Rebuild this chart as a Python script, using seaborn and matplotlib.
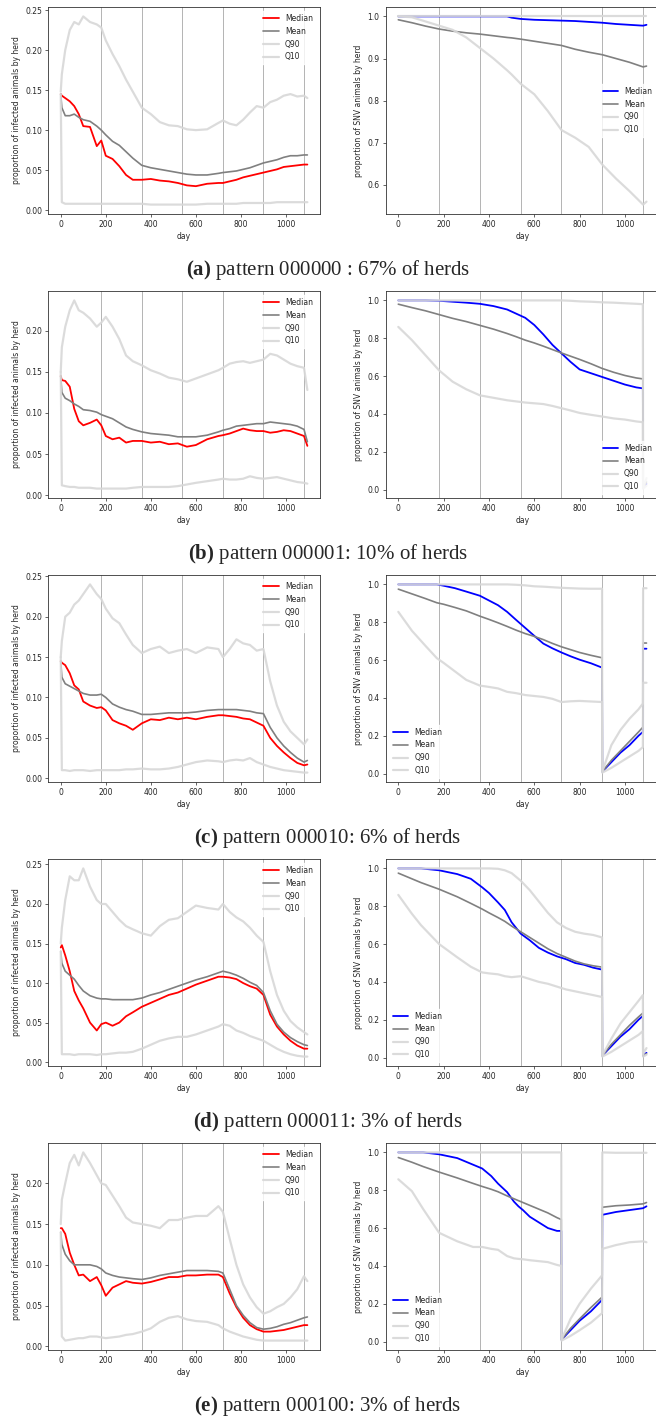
import matplotlib
matplotlib.use("Agg")
import matplotlib.pyplot as plt
import seaborn as sns

# ---------------------------------------------------------------
# Left column: proportion of infected animals by herd
# ---------------------------------------------------------------
left_days = [0, 5, 20, 40, 60, 80, 100, 130, 160, 180, 200, 230, 260, 290, 320,
             360, 400, 440, 480, 520, 560, 600, 650, 700, 720, 750, 780, 810,
             840, 870, 900, 930, 960, 990, 1020, 1050, 1080, 1095]

a_inf_median = [0.145, 0.143, 0.140, 0.136, 0.130, 0.120, 0.105, 0.104, 0.080, 0.087,
                0.068, 0.064, 0.055, 0.044, 0.038,
                0.038, 0.039, 0.037, 0.036, 0.034, 0.031, 0.030,
                0.033, 0.034, 0.034, 0.036, 0.038, 0.041, 0.043, 0.045, 0.047,
                0.049, 0.051, 0.054, 0.055, 0.056, 0.057, 0.057]
a_inf_mean = [0.145, 0.128, 0.118, 0.118, 0.120, 0.116, 0.113, 0.111, 0.105, 0.100,
              0.094, 0.086, 0.081, 0.073, 0.065,
              0.056, 0.053, 0.051, 0.049, 0.047, 0.045, 0.044,
              0.044, 0.046, 0.047, 0.048, 0.049, 0.051, 0.053, 0.056, 0.059,
              0.061, 0.063, 0.066, 0.068, 0.068, 0.069, 0.069]
a_inf_q90 = [0.148, 0.170, 0.200, 0.225, 0.235, 0.232, 0.242, 0.235, 0.232, 0.228,
             0.212, 0.195, 0.180, 0.163, 0.148,
             0.128, 0.120, 0.110, 0.106, 0.105, 0.101, 0.100,
             0.101, 0.109, 0.112, 0.108, 0.106, 0.113, 0.122, 0.130, 0.128,
             0.135, 0.138, 0.143, 0.145, 0.142, 0.143, 0.140]
a_inf_q10 = [0.145, 0.010, 0.008, 0.008, 0.008, 0.008, 0.008, 0.008, 0.008, 0.008,
             0.008, 0.008, 0.008, 0.008, 0.008,
             0.008, 0.007, 0.007, 0.007, 0.007, 0.007, 0.007,
             0.008, 0.008, 0.008, 0.008, 0.008, 0.009, 0.009, 0.009, 0.009,
             0.009, 0.010, 0.010, 0.010, 0.010, 0.010, 0.010]

b_inf_median = [0.145, 0.140, 0.139, 0.132, 0.105, 0.090, 0.085, 0.088, 0.092, 0.085,
                0.072, 0.068, 0.070, 0.064, 0.066,
                0.066, 0.064, 0.065, 0.062, 0.063, 0.059, 0.061,
                0.068, 0.072, 0.073, 0.075, 0.078, 0.081, 0.079, 0.078, 0.078,
                0.076, 0.077, 0.079, 0.078, 0.075, 0.072, 0.060]
b_inf_mean = [0.145, 0.125, 0.118, 0.115, 0.111, 0.108, 0.104, 0.103, 0.101, 0.098,
              0.096, 0.093, 0.088, 0.083, 0.080,
              0.077, 0.075, 0.074, 0.073, 0.071, 0.071, 0.071,
              0.073, 0.077, 0.079, 0.081, 0.084, 0.085, 0.086, 0.087, 0.087,
              0.089, 0.088, 0.087, 0.086, 0.084, 0.080, 0.065]
b_inf_q90 = [0.150, 0.180, 0.205, 0.225, 0.237, 0.225, 0.222, 0.215, 0.205, 0.210,
             0.217, 0.205, 0.190, 0.170, 0.163,
             0.158, 0.152, 0.148, 0.143, 0.141, 0.138, 0.142,
             0.147, 0.152, 0.155, 0.160, 0.162, 0.163, 0.161, 0.163, 0.165,
             0.172, 0.170, 0.165, 0.160, 0.157, 0.155, 0.128]
b_inf_q10 = [0.150, 0.012, 0.011, 0.010, 0.010, 0.009, 0.009, 0.009, 0.008, 0.008,
             0.008, 0.008, 0.008, 0.008, 0.009,
             0.010, 0.010, 0.010, 0.010, 0.011, 0.013, 0.015,
             0.017, 0.019, 0.020, 0.019, 0.019, 0.020, 0.023, 0.021, 0.020,
             0.021, 0.022, 0.020, 0.018, 0.016, 0.015, 0.014]

c_inf_median = [0.145, 0.143, 0.140, 0.130, 0.115, 0.110, 0.095, 0.090, 0.087, 0.088,
                0.084, 0.072, 0.068, 0.065, 0.060,
                0.068, 0.073, 0.072, 0.075, 0.073, 0.075, 0.073,
                0.076, 0.078, 0.078, 0.077, 0.076, 0.074, 0.073, 0.069, 0.065,
                0.050, 0.040, 0.032, 0.025, 0.019, 0.016, 0.017]
c_inf_mean = [0.145, 0.125, 0.117, 0.114, 0.111, 0.108, 0.105, 0.103, 0.103, 0.104,
              0.100, 0.092, 0.088, 0.085, 0.083,
              0.079, 0.079, 0.080, 0.081, 0.081, 0.081, 0.082,
              0.084, 0.085, 0.085, 0.085, 0.085, 0.084, 0.083, 0.081, 0.080,
              0.063, 0.050, 0.040, 0.032, 0.025, 0.020, 0.022]
c_inf_q90 = [0.150, 0.170, 0.200, 0.205, 0.215, 0.220, 0.228, 0.240, 0.228, 0.222,
             0.210, 0.198, 0.192, 0.178, 0.165,
             0.155, 0.160, 0.163, 0.155, 0.158, 0.160, 0.155,
             0.162, 0.160, 0.150, 0.160, 0.172, 0.167, 0.165, 0.158, 0.160,
             0.120, 0.090, 0.070, 0.058, 0.050, 0.042, 0.048]
c_inf_q10 = [0.150, 0.010, 0.010, 0.009, 0.010, 0.010, 0.010, 0.009, 0.010, 0.010,
             0.010, 0.010, 0.010, 0.011, 0.011,
             0.012, 0.011, 0.011, 0.012, 0.014, 0.017, 0.020,
             0.022, 0.021, 0.020, 0.022, 0.023, 0.022, 0.025, 0.020, 0.017,
             0.014, 0.012, 0.010, 0.009, 0.008, 0.007, 0.007]

d_inf_median = [0.145, 0.148, 0.135, 0.115, 0.090, 0.078, 0.068, 0.050, 0.040, 0.048,
                0.050, 0.046, 0.050, 0.058, 0.063,
                0.070, 0.075, 0.080, 0.085, 0.088, 0.093, 0.098,
                0.103, 0.108, 0.108, 0.107, 0.105, 0.100, 0.096, 0.093, 0.085,
                0.060, 0.045, 0.035, 0.027, 0.021, 0.017, 0.017]
d_inf_mean = [0.140, 0.125, 0.115, 0.110, 0.105, 0.097, 0.090, 0.084, 0.081, 0.080,
              0.080, 0.079, 0.079, 0.079, 0.079,
              0.081, 0.085, 0.088, 0.092, 0.096, 0.100, 0.104,
              0.108, 0.113, 0.115, 0.113, 0.110, 0.106, 0.101, 0.097, 0.088,
              0.065, 0.048, 0.038, 0.031, 0.026, 0.022, 0.021]
d_inf_q90 = [0.150, 0.170, 0.205, 0.235, 0.230, 0.230, 0.245, 0.222, 0.205, 0.200,
             0.200, 0.190, 0.180, 0.172, 0.168,
             0.163, 0.160, 0.172, 0.180, 0.182, 0.190, 0.198,
             0.195, 0.193, 0.200, 0.190, 0.183, 0.178, 0.170, 0.160, 0.152,
             0.115, 0.085, 0.065, 0.052, 0.044, 0.038, 0.035]
d_inf_q10 = [0.140, 0.010, 0.010, 0.010, 0.009, 0.010, 0.010, 0.010, 0.009, 0.010,
             0.010, 0.011, 0.012, 0.012, 0.013,
             0.017, 0.022, 0.027, 0.030, 0.032, 0.032, 0.035,
             0.040, 0.045, 0.048, 0.046, 0.040, 0.037, 0.033, 0.030, 0.027,
             0.022, 0.017, 0.013, 0.010, 0.008, 0.007, 0.007]

e_inf_median = [0.145, 0.145, 0.138, 0.115, 0.100, 0.087, 0.088, 0.080, 0.085, 0.075,
                0.062, 0.072, 0.076, 0.080, 0.078,
                0.077, 0.079, 0.082, 0.085, 0.085, 0.087, 0.087,
                0.088, 0.088, 0.085, 0.065, 0.048, 0.035, 0.026, 0.021, 0.018,
                0.018, 0.019, 0.020, 0.022, 0.024, 0.026, 0.026]
e_inf_mean = [0.140, 0.125, 0.113, 0.105, 0.100, 0.100, 0.100, 0.100, 0.098, 0.095,
              0.090, 0.087, 0.085, 0.084, 0.083,
              0.082, 0.084, 0.087, 0.089, 0.091, 0.093, 0.093,
              0.093, 0.092, 0.090, 0.070, 0.050, 0.038, 0.029, 0.023, 0.021,
              0.022, 0.024, 0.027, 0.029, 0.032, 0.035, 0.036]
e_inf_q90 = [0.150, 0.180, 0.200, 0.225, 0.235, 0.222, 0.238, 0.225, 0.210, 0.200,
             0.198, 0.185, 0.172, 0.158, 0.152,
             0.150, 0.148, 0.145, 0.155, 0.155, 0.158, 0.160,
             0.160, 0.172, 0.165, 0.132, 0.100, 0.076, 0.060, 0.048, 0.040,
             0.043, 0.048, 0.052, 0.060, 0.070, 0.086, 0.080]
e_inf_q10 = [0.140, 0.012, 0.007, 0.008, 0.009, 0.010, 0.010, 0.012, 0.012, 0.011,
             0.010, 0.011, 0.012, 0.014, 0.015,
             0.018, 0.022, 0.030, 0.035, 0.037, 0.033, 0.031,
             0.030, 0.026, 0.022, 0.018, 0.015, 0.012, 0.010, 0.008, 0.007,
             0.007, 0.007, 0.007, 0.007, 0.007, 0.007, 0.007]

# ---------------------------------------------------------------
# Right column: proportion of SNV animals by herd
# ---------------------------------------------------------------
a_snv_days = [0, 60, 120, 180, 240, 300, 360, 420, 480, 500, 540, 600, 660, 720,
              780, 840, 900, 960, 1020, 1080, 1095]
a_snv_median = [1.0, 1.0, 1.0, 1.0, 1.0, 1.0, 1.0, 1.0, 1.0, 0.997, 0.994, 0.992,
                0.991, 0.990, 0.989, 0.987, 0.985, 0.982, 0.980, 0.978, 0.980]
a_snv_mean = [0.992, 0.985, 0.977, 0.970, 0.965, 0.961, 0.958, 0.954, 0.950, 0.949,
              0.946, 0.941, 0.936, 0.931, 0.922, 0.915, 0.909, 0.900, 0.891, 0.880, 0.882]
a_snv_q90 = [1.0, 1.0, 1.0, 1.0, 1.0, 1.0, 1.0, 1.0, 1.0, 1.0, 1.0, 1.0, 1.0, 1.0,
             1.0, 1.0, 1.0, 1.0, 1.0, 1.0, 1.0]
a_snv_q10 = [1.0, 0.998, 0.988, 0.978, 0.968, 0.950, 0.925, 0.900, 0.872, 0.862,
             0.840, 0.815, 0.775, 0.730, 0.712, 0.690, 0.648, 0.615, 0.585, 0.553, 0.560]

b_snv_days = [0, 60, 120, 180, 240, 300, 360, 420, 480, 520, 560, 600, 640, 680,
              720, 760, 800, 850, 900, 950, 1000, 1050, 1079, 1080, 1095]
b_snv_median = [1.0, 1.0, 1.0, 0.998, 0.993, 0.988, 0.982, 0.970, 0.952, 0.930,
                0.908, 0.870, 0.820, 0.765, 0.720, 0.675, 0.635, 0.615, 0.595,
                0.575, 0.555, 0.540, 0.535, 0.010, 0.030]
b_snv_mean = [0.980, 0.962, 0.945, 0.925, 0.905, 0.888, 0.868, 0.848, 0.825, 0.808,
              0.790, 0.775, 0.758, 0.740, 0.722, 0.705, 0.688, 0.665, 0.640, 0.620,
              0.603, 0.590, 0.585, 0.010, 0.040]
b_snv_q90 = [1.0, 1.0, 1.0, 1.0, 1.0, 1.0, 1.0, 1.0, 1.0, 1.0, 1.0, 1.0, 1.0, 1.0,
             1.0, 0.998, 0.995, 0.993, 0.990, 0.988, 0.985, 0.982, 0.980, 0.010, 0.060]
b_snv_q10 = [0.860, 0.790, 0.710, 0.630, 0.570, 0.530, 0.498, 0.485, 0.472, 0.466,
             0.460, 0.456, 0.452, 0.442, 0.430, 0.418, 0.405, 0.395, 0.386, 0.376,
             0.370, 0.360, 0.356, 0.005, 0.020]

c_snv_days = [0, 60, 120, 170, 200, 250, 300, 360, 400, 440, 480, 520, 560, 600,
              640, 680, 720, 760, 800, 850, 899, 900, 940, 980, 1020, 1060, 1079,
              1080, 1095]
c_snv_median = [1.0, 1.0, 1.0, 1.0, 0.993, 0.980, 0.962, 0.940, 0.915, 0.890, 0.855,
                0.812, 0.770, 0.728, 0.687, 0.662, 0.640, 0.620, 0.602, 0.583, 0.560,
                0.010, 0.060, 0.110, 0.150, 0.200, 0.220, 0.660, 0.660]
c_snv_mean = [0.975, 0.950, 0.925, 0.903, 0.895, 0.878, 0.860, 0.832, 0.815, 0.797,
              0.778, 0.758, 0.740, 0.725, 0.708, 0.688, 0.670, 0.655, 0.640, 0.625,
              0.612, 0.010, 0.070, 0.120, 0.170, 0.220, 0.245, 0.690, 0.690]
c_snv_q90 = [1.0, 1.0, 1.0, 1.0, 1.0, 1.0, 1.0, 1.0, 1.0, 1.0, 1.0, 0.998, 0.995,
             0.990, 0.988, 0.985, 0.982, 0.980, 0.978, 0.977, 0.977, 0.010, 0.150,
             0.230, 0.290, 0.340, 0.370, 0.980, 0.980]
c_snv_q10 = [0.855, 0.755, 0.675, 0.610, 0.585, 0.540, 0.495, 0.465, 0.458, 0.450,
             0.432, 0.425, 0.415, 0.410, 0.405, 0.395, 0.378, 0.382, 0.384, 0.381,
             0.378, 0.005, 0.030, 0.060, 0.090, 0.120, 0.140, 0.480, 0.480]

d_snv_days = [0, 60, 100, 180, 260, 320, 370, 400, 440, 470, 500, 540, 580, 620,
              660, 700, 740, 780, 820, 860, 899, 900, 940, 980, 1020, 1060, 1079,
              1080, 1095]
d_snv_median = [1.0, 1.0, 1.0, 0.990, 0.970, 0.945, 0.900, 0.870, 0.820, 0.780,
                0.715, 0.655, 0.620, 0.580, 0.555, 0.535, 0.520, 0.500, 0.490, 0.475,
                0.465, 0.010, 0.060, 0.110, 0.150, 0.200, 0.220, 0.010, 0.025]
d_snv_mean = [0.975, 0.945, 0.925, 0.890, 0.850, 0.815, 0.785, 0.765, 0.740, 0.720,
              0.695, 0.665, 0.635, 0.605, 0.575, 0.550, 0.530, 0.510, 0.495, 0.485,
              0.478, 0.010, 0.070, 0.120, 0.170, 0.215, 0.235, 0.010, 0.020]
d_snv_q90 = [1.0, 1.0, 1.0, 1.0, 1.0, 1.0, 1.0, 1.0, 0.998, 0.990, 0.975, 0.935,
             0.885, 0.825, 0.765, 0.715, 0.685, 0.665, 0.655, 0.648, 0.635, 0.010,
             0.100, 0.180, 0.240, 0.300, 0.330, 0.020, 0.050]
d_snv_q10 = [0.860, 0.760, 0.700, 0.600, 0.530, 0.480, 0.450, 0.445, 0.440, 0.430,
             0.425, 0.430, 0.415, 0.400, 0.390, 0.375, 0.360, 0.350, 0.340, 0.330,
             0.320, 0.005, 0.030, 0.060, 0.090, 0.120, 0.140, 0.005, 0.015]

e_snv_days = [0, 60, 110, 180, 260, 330, 370, 410, 440, 480, 510, 530, 550, 580,
              620, 660, 700, 719, 720, 760, 800, 850, 899, 900, 960, 1020, 1080, 1095]
e_snv_median = [1.0, 1.0, 1.0, 0.990, 0.970, 0.935, 0.915, 0.875, 0.835, 0.790,
                0.740, 0.715, 0.695, 0.660, 0.630, 0.600, 0.585, 0.585, 0.010, 0.060,
                0.110, 0.160, 0.220, 0.670, 0.685, 0.695, 0.705, 0.715]
e_snv_mean = [0.973, 0.948, 0.925, 0.896, 0.865, 0.836, 0.820, 0.805, 0.792, 0.770,
              0.755, 0.745, 0.735, 0.720, 0.700, 0.680, 0.655, 0.645, 0.010, 0.070,
              0.120, 0.180, 0.235, 0.710, 0.718, 0.722, 0.728, 0.735]
e_snv_q90 = [1.0, 1.0, 1.0, 1.0, 1.0, 1.0, 1.0, 1.0, 1.0, 1.0, 1.0, 1.0, 1.0, 1.0,
             1.0, 1.0, 1.0, 1.0, 0.010, 0.120, 0.200, 0.280, 0.350, 1.0, 0.998,
             0.998, 0.998, 0.998]
e_snv_q10 = [0.858, 0.795, 0.700, 0.575, 0.530, 0.500, 0.500, 0.490, 0.485, 0.452,
             0.440, 0.437, 0.435, 0.430, 0.425, 0.420, 0.405, 0.400, 0.005, 0.030,
             0.060, 0.100, 0.150, 0.490, 0.510, 0.525, 0.530, 0.525]

panel_letters = ["(a)", "(b)", "(c)", "(d)", "(e)"]
panel_texts = ["pattern 000000 : 67% of herds",
               "pattern 000001: 10% of herds",
               "pattern 000010: 6% of herds",
               "pattern 000011: 3% of herds",
               "pattern 000100: 3% of herds"]
period_days = [180, 360, 540, 720, 900, 1080]
series_names = ["Median", "Mean", "Q90", "Q10"]

infected = [
    [a_inf_median, a_inf_mean, a_inf_q90, a_inf_q10],
    [b_inf_median, b_inf_mean, b_inf_q90, b_inf_q10],
    [c_inf_median, c_inf_mean, c_inf_q90, c_inf_q10],
    [d_inf_median, d_inf_mean, d_inf_q90, d_inf_q10],
    [e_inf_median, e_inf_mean, e_inf_q90, e_inf_q10],
]
snv = [
    (a_snv_days, [a_snv_median, a_snv_mean, a_snv_q90, a_snv_q10]),
    (b_snv_days, [b_snv_median, b_snv_mean, b_snv_q90, b_snv_q10]),
    (c_snv_days, [c_snv_median, c_snv_mean, c_snv_q90, c_snv_q10]),
    (d_snv_days, [d_snv_median, d_snv_mean, d_snv_q90, d_snv_q10]),
    (e_snv_days, [e_snv_median, e_snv_mean, e_snv_q90, e_snv_q10]),
]
snv_legend_loc = ["center right", "lower right", "lower left", "lower left", "lower left"]

sns.set_style("ticks")
plt.rcParams["font.family"] = ["DejaVu Sans"]
plt.rcParams["mathtext.fontset"] = "custom"
plt.rcParams["mathtext.rm"] = "Liberation Serif"
plt.rcParams["mathtext.bf"] = "Liberation Serif:bold"

FS = 5.5
W, H = 656, 1421


def draw_panel(ax, days, values, median_color, ylabel, loc):
    styles = [
        dict(color=median_color, lw=1.3, alpha=1.0),
        dict(color="grey", lw=1.2, alpha=1.0),
        dict(color="#d8d8d8", lw=1.6, alpha=0.9),
        dict(color="#d8d8d8", lw=1.6, alpha=0.9),
    ]
    for d in period_days:
        ax.axvline(d, color="#a0a0a0", lw=0.7, alpha=0.8, zorder=1)
    for name, vals, st in zip(series_names, values, styles):
        sns.lineplot(x=days, y=vals, ax=ax, label=name, estimator=None, sort=False,
                     zorder=2, **st)
    ax.set_xlabel("day", fontsize=FS, labelpad=2)
    ax.set_ylabel(ylabel, fontsize=FS, labelpad=3)
    ax.tick_params(labelsize=FS, length=2.5, width=0.5, pad=2)
    for sp in ax.spines.values():
        sp.set_linewidth(0.6)
        sp.set_color("#333333")
    leg = ax.legend(loc=loc, fontsize=FS, frameon=True, framealpha=0.8,
                    edgecolor="white", facecolor="white")
    return leg


fig = plt.figure(figsize=(W / 100, H / 100), dpi=100)
pitch = 284
for i in range(5):
    top = 7 + pitch * i
    bottom = 214 + pitch * i
    ax_l = fig.add_axes([48.4 / W, 1 - bottom / H, (319.7 - 48.4) / W, (bottom - top) / H])
    ax_r = fig.add_axes([385.9 / W, 1 - bottom / H, (658.9 - 385.9) / W, (bottom - top) / H])

    draw_panel(ax_l, left_days, infected[i], "red",
               "proportion of infected animals by herd", "upper right")
    days_r, vals_r = snv[i]
    draw_panel(ax_r, days_r, vals_r, "blue",
               "proportion of SNV animals by herd", snv_legend_loc[i])

    caption = r"$\mathbf{" + panel_letters[i] + "}$ " + panel_texts[i]
    fig.text(0.5, 1 - (270 + pitch * i) / H, caption, ha="center", va="center",
             fontsize=15, family="Liberation Serif")

fig.savefig("out.png", dpi=100)
